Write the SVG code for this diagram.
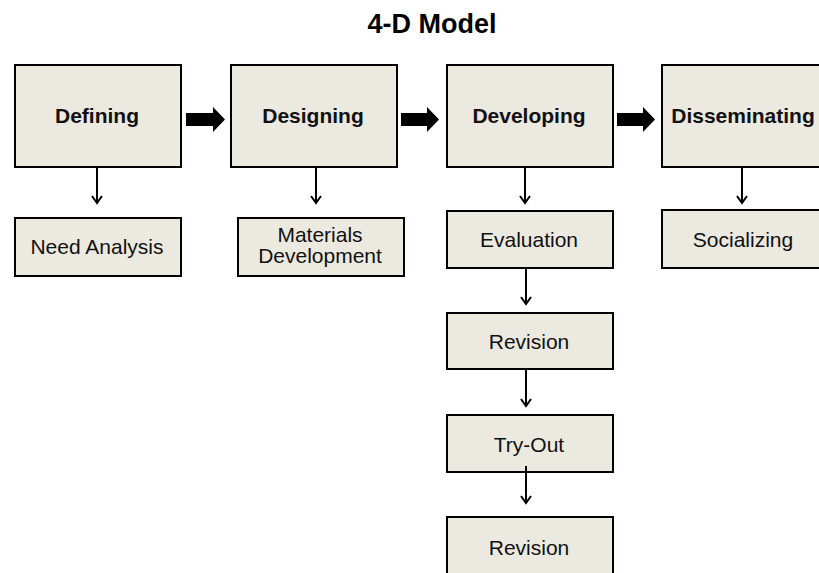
<svg xmlns="http://www.w3.org/2000/svg" width="819" height="573" viewBox="0 0 819 573">
<style>
.box{fill:#ECE9E0;stroke:#000;stroke-width:2}
.lbl{font-family:"Liberation Sans",Arial,sans-serif;font-size:21px;fill:#111;text-anchor:middle}
.b{font-weight:bold}
.title{font-family:"Liberation Sans",Arial,sans-serif;font-size:27px;font-weight:bold;fill:#000;text-anchor:middle}
.ln{stroke:#000;stroke-width:2;fill:none;marker-end:url(#ah)}
.big{fill:#000}
</style>
<defs>
<marker id="ah" markerWidth="12" markerHeight="12" refX="9" refY="6" orient="auto" markerUnits="userSpaceOnUse" viewBox="0 0 12 12">
<polyline points="2,1 9,6 2,11" fill="none" stroke="#000" stroke-width="2"/>
</marker>
</defs>
<rect width="819" height="573" fill="#fff"/>
<text class="title" x="432" y="33">4-D Model</text>
<g id="defining"><rect class="box" x="15" y="65" width="166" height="102"/><text class="lbl b" x="97" y="123">Defining</text></g>
<g id="designing"><rect class="box" x="231" y="65" width="166" height="102"/><text class="lbl b" x="313" y="123">Designing</text></g>
<g id="developing"><rect class="box" x="447" y="65" width="166" height="102"/><text class="lbl b" x="529" y="123">Developing</text></g>
<g id="disseminating"><rect class="box" x="662" y="65" width="166" height="102"/><text class="lbl b" x="743" y="123">Disseminating</text></g>
<g id="need-analysis"><rect class="box" x="15" y="218" width="166" height="58"/><text class="lbl" x="97" y="254">Need Analysis</text></g>
<g id="materials"><rect class="box" x="238" y="218" width="166" height="58"/><text class="lbl" x="320" y="242">Materials</text><text class="lbl" x="320" y="263">Development</text></g>
<g id="evaluation"><rect class="box" x="447" y="211" width="166" height="57"/><text class="lbl" x="529" y="247">Evaluation</text></g>
<g id="socializing"><rect class="box" x="662" y="210" width="166" height="58"/><text class="lbl" x="743" y="247">Socializing</text></g>
<g id="revision1"><rect class="box" x="447" y="313" width="166" height="56"/><text class="lbl" x="529" y="349">Revision</text></g>
<g id="tryout"><rect class="box" x="447" y="415" width="166" height="57"/><text class="lbl" x="529" y="452">Try-Out</text></g>
<g id="revision2"><rect class="box" x="447" y="517" width="166" height="70"/><text class="lbl" x="529" y="555">Revision</text></g>
<g id="connectors">
<polygon class="big" points="186,113 213,113 213,107 225,119.5 213,132 213,126 186,126"/>
<polygon class="big" points="401,113 427,113 427,107 439,119.5 427,132 427,126 401,126"/>
<polygon class="big" points="617,113 643,113 643,107 655,119.5 643,132 643,126 617,126"/>
<line class="ln" x1="97" y1="167" x2="97" y2="203"/>
<line class="ln" x1="316" y1="167" x2="316" y2="203"/>
<line class="ln" x1="525" y1="167" x2="525" y2="203"/>
<line class="ln" x1="742" y1="167" x2="742" y2="203"/>
<line class="ln" x1="526" y1="268" x2="526" y2="304"/>
<line class="ln" x1="526" y1="369" x2="526" y2="406"/>
<line class="ln" x1="526" y1="466" x2="526" y2="503"/>
</g>
</svg>
